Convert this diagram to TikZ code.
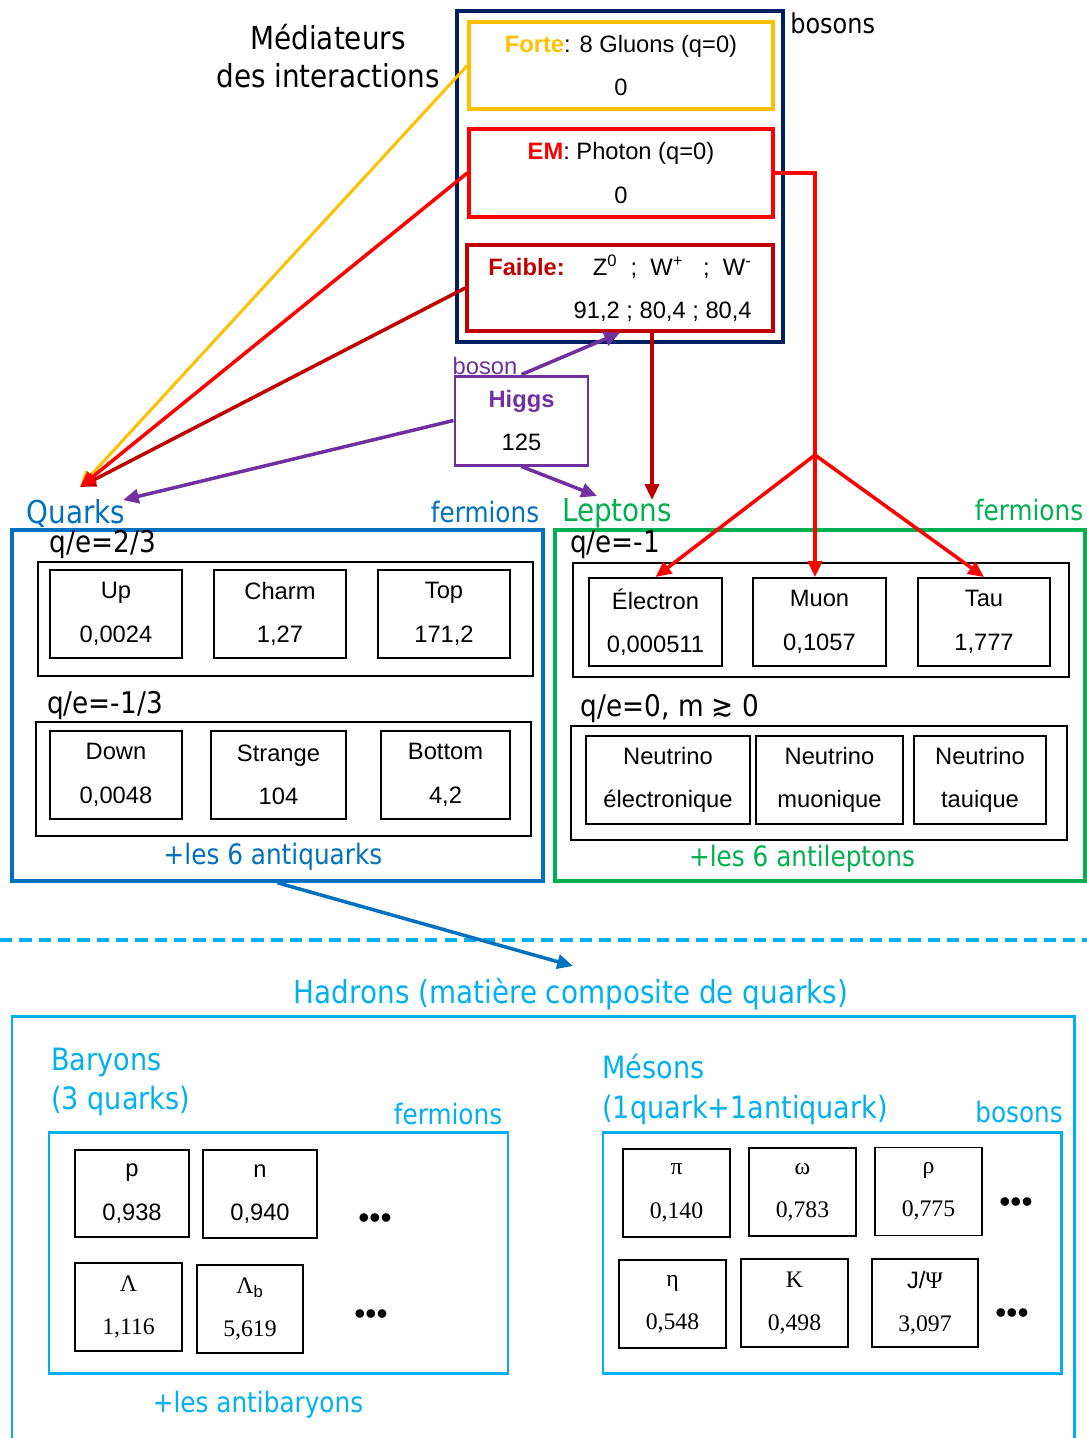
\documentclass[tikz,border=0pt]{standalone}
\usepackage{fontspec}
\setmainfont{Liberation Sans}
\newfontfamily\tah[FakeStretch=0.88]{DejaVu Sans}
\newfontfamily\tms{Liberation Serif}
\usetikzlibrary{arrows.meta}
\definecolor{navy}{HTML}{002060}
\definecolor{gold}{HTML}{FFC000}
\definecolor{darkred}{HTML}{C00000}
\definecolor{hpurple}{HTML}{7030A0}
\definecolor{qblue}{HTML}{0070C0}
\definecolor{lgreen}{HTML}{00B050}
\definecolor{hblue}{HTML}{00B0F0}
\newcommand\bx{\fontsize{13.5}{24.7}\selectfont}
\begin{document}
\begin{tikzpicture}[x=0.02cm, y=-0.02cm,
    >={Triangle[length=9pt,width=8pt]},
    wh/.style 2 args={minimum width=#1*0.02cm, minimum height=#2*0.02cm, inner sep=0pt},
    part/.style={draw, line width=1.1pt, align=center, font=\bx},
    gk/.style={part, font=\bx\tms},
    row/.style={draw, line width=1.1pt},
    group/.style={draw, line width=2pt},
    tag/.style={inner sep=0pt, font=\tah\fontsize{16}{19}\selectfont},
    big/.style={inner sep=0pt, font=\tah\fontsize{18}{21.5}\selectfont},
    qe/.style={inner sep=0pt, font=\tah\fontsize{17}{19}\selectfont},
    dots/.style={inner sep=0pt, font=\fontsize{18}{18}\selectfont},
    link/.style={line width=2pt}]
\useasboundingbox (0,0) rectangle (1087,1438);

% mediators
\node[group, navy, wh={326}{331}, line width=2.2pt] (B) at (620,176.5) {};
\node[part, wh={304}{87}, draw=gold, line width=2pt] (F) at (621,65.5) {\textbf{\color{gold}Forte}: 8 Gluons (q=0)\\0};
\node[part, wh={304}{88}, draw=red, line width=2pt] (EM) at (621,173) {\textbf{\color{red}EM}: Photon (q=0)\\0};
\node[part, wh={306}{86}, draw=darkred, line width=2pt, align=right] (W) at (620,288)
    {\textbf{\color{darkred}Faible:}\hspace{16pt}Z\textsuperscript{0}\ \ ;\ \ W\textsuperscript{+}\ \ \ ;\ \ W\textsuperscript{-}\\91,2 ; 80,4 ; 80,4};
\node[tag, anchor=west, font=\tah\fontsize{15.5}{19}\selectfont] (bos) at (790,23) {bosons};
\node[big, align=center] (M) at (328,56) {Médiateurs\\des interactions};
\node[part, wh={133}{89}, draw=hpurple, line width=1.7pt] (H) at (521.5,420.5) {\textbf{\color{hpurple}Higgs}\\125};
\node[hpurple, inner sep=0pt, font=\fontsize{13.5}{16}\selectfont] (hb) at (485,366) {boson};

% quarks
\node[group, qblue, wh={531}{351}] (Q) at (277.5,705.5) {};
\node[big, qblue] (Ql) at (76,514) {Quarks};
\node[tag, qblue] (Qf) at (485,512) {fermions};
\node[qe] (q1) at (103,545) {q/e=2/3};
\node[row, wh={495}{114}] (Q1) at (285.5,619) {};
\node[part, wh={132}{88}] (u) at (116,614) {Up\\0,0024};
\node[part, wh={132}{88}] (c) at (280,614) {Charm\\1,27};
\node[part, wh={132}{88}] (t) at (444,614) {Top\\171,2};
\node[qe] (q2) at (105,706) {q/e=-1/3};
\node[row, wh={495}{114}] (Q2) at (283.5,779) {};
\node[part, wh={132}{88}] (d) at (116,775) {Down\\0,0048};
\node[part, wh={135}{88}] (s) at (278.5,775) {Strange\\104};
\node[part, wh={129}{88}] (b) at (445.5,775) {Bottom\\4,2};
\node[tag, qblue] (Qa) at (273,857) {+les 6 antiquarks};

% leptons
\node[group, lgreen, wh={530}{351}] (L) at (820,705.5) {};
\node[big, lgreen] (Ll) at (617,513) {Leptons};
\node[tag, lgreen] (Lf) at (1029,510) {fermions};
\node[qe] (l1) at (615,545) {q/e=-1};
\node[row, wh={496}{114}] (L1) at (821,620) {};
\node[part, wh={133}{88}] (e) at (655.5,622) {Électron\\0,000511};
\node[part, wh={133}{88}] (mu) at (819.5,622) {Muon\\0,1057};
\node[part, wh={132}{88}] (tau) at (984,622) {Tau\\1,777};
\node[qe] (l2) at (670,709) {q/e=0, m ≳ 0};
\node[row, wh={496}{114}] (L2) at (819,783) {};
\node[part, wh={164}{88}] (ne) at (668,780) {Neutrino\\électronique};
\node[part, wh={147}{88}] (nm) at (829.5,780) {Neutrino\\muonique};
\node[part, wh={132}{88}] (nt) at (980,780) {Neutrino\\tauique};
\node[tag, lgreen] (La) at (802,859) {+les 6 antileptons};

% connectors
\coordinate (qa) at (80,487);
\coordinate (qb) at (123,500);
\coordinate (la) at (652,500);
\coordinate (lb) at (597,496);
\coordinate (J) at (815,455);
\coordinate (ha) at (573,966);
\draw[->, gold, line width=1.7pt] (F.west) -- (qa);
\draw[->, darkred, link] (W.west) -- (qa);
\draw[->, red, link] (EM.west) -- (qa);
\draw[->, hpurple, link] (H.west) -- (qb);
\draw[->, hpurple, link] (H.north) -- (W.south);
\draw[->, hpurple, link] (H.south) -- (lb);
\draw[->, darkred, link] (la |- W.south) -- (la);
\draw[red, link] (EM.east) -| (J);
\draw[->, red, link] (J) -- (e.north);
\draw[->, red, link] (J) -- (J |- mu.north);
\draw[->, red, link] (J) -- (tau.north);

% hadrons
\draw[hblue, line width=2.8pt, dash pattern=on 7pt off 4pt] (0,940) -- (1087,940);
\draw[->, qblue, link] (Q.south) -- (ha);
\node[tag, hblue, font=\tah\fontsize{18}{21}\selectfont] (Hd) at (571,994) {Hadrons (matière composite de quarks)};
\draw[hblue, line width=1.7pt] (12,1438) |- (1074,1016) -- (1074,1438);

\node[big, hblue, anchor=west, align=left, font=\tah\fontsize{17.5}{22.7}\selectfont] (Ba) at (51,1082) {Baryons\\(3 quarks)};
\node[tag, hblue] (Bf) at (448,1114) {fermions};
\node[draw, hblue, line width=1.7pt, wh={459}{241}] (BB) at (278.5,1252.5) {};
\node[part, wh={114}{87}] (p) at (132,1193.5) {p\\0,938};
\node[part, wh={114}{88}] (n) at (260,1194) {n\\0,940};
\node[gk, wh={107}{88}] (La1) at (128.5,1307) {Λ\\1,116};
\node[gk, wh={106}{88}] (La2) at (250,1309) {Λ{\rmfamily\textsubscript{b}}\\5,619};
\node[dots] (d1) at (375,1221) {•••};
\node[dots] (d2) at (371,1317) {•••};
\node[tag, hblue] (Bab) at (258,1405) {+les antibaryons};

\node[big, hblue, anchor=west, align=left, font=\tah\fontsize{17.5}{22.7}\selectfont] (Me) at (602,1089) {Mésons\\(1quark+1antiquark)};
\node[tag, hblue] (Mb) at (1019,1112) {bosons};
\node[draw, hblue, line width=1.7pt, wh={458}{241}] (MM) at (832,1252.5) {};
\node[gk, wh={107}{88}] (pi) at (676.5,1193) {π\\0,140};
\node[gk, wh={107}{88}] (om) at (802.5,1192) {ω\\0,783};
\node[gk, wh={107}{88}] (rho) at (928.5,1191.5) {ρ\\0,775};
\node[gk, wh={107}{88}] (eta) at (672.5,1304) {η\\0,548};
\node[gk, wh={107}{88}] (K) at (794.5,1303) {K\\0,498};
\node[gk, wh={106}{88}] (psi) at (925,1303) {{\rmfamily J/}Ψ\\3,097};
\node[dots] (d3) at (1016,1205) {•••};
\node[dots] (d4) at (1012,1316) {•••};
\end{tikzpicture}
\end{document}
